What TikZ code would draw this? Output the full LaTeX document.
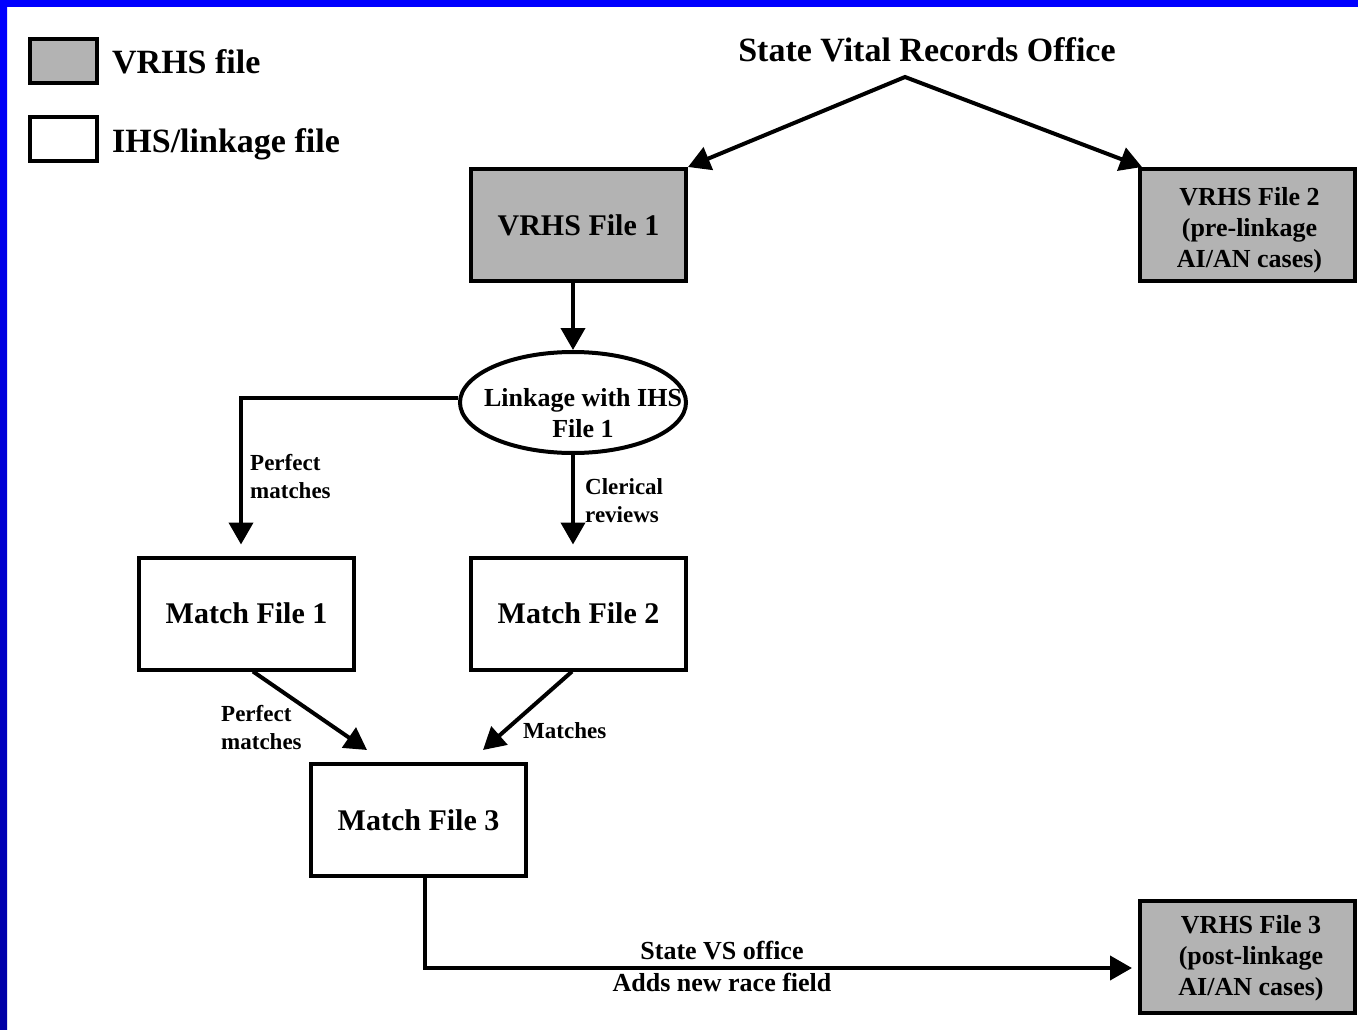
\documentclass[tikz,border=0pt]{standalone}
\usepackage{fontspec}
\setmainfont{Liberation Serif}
\usetikzlibrary{arrows.meta,shapes.geometric,calc}
\definecolor{filegray}{RGB}{179,179,179}
\definecolor{frametop}{RGB}{0,0,255}
\definecolor{framebottom}{RGB}{0,0,165}

\begin{document}
\begin{tikzpicture}[x=1pt,y=-1pt,
  bigtext/.style={font=\bfseries\fontsize{34}{40}\selectfont},
  boxtext/.style={font=\bfseries\fontsize{30}{36}\selectfont},
  stacktext/.style={font=\bfseries\fontsize{26}{31}\selectfont, align=center, inner sep=0pt, anchor=base},
  smalltext/.style={font=\bfseries\fontsize{23}{27.5}\selectfont, inner sep=0pt},
  filebox/.style={draw, line width=4pt, minimum width=215pt, minimum height=112pt,
                  inner sep=0pt, align=center},
  vrhsbox/.style={filebox, fill=filegray},
  ihsbox/.style={filebox, fill=white},
  keybox/.style={draw, line width=4pt, minimum width=67pt, minimum height=44pt, inner sep=0pt},
  flow/.style={line width=4pt},
  arr/.style={flow, -{Triangle[length=22pt,width=24pt]}},
]
\useasboundingbox (0,0) rectangle (1358,1030);

% frame along the top and left edges
\fill[frametop] (0,0) rectangle (1358,7);
\shade[top color=frametop, bottom color=framebottom] (0,0) rectangle (7,1030);

% legend
\node[keybox, fill=filegray] (keyvrhs) at (63.5,61) {};
\node[keybox, fill=white] (keyihs) at (63.5,139) {};
\node[bigtext, anchor=base west, inner sep=0pt] (keyvrhstext) at (112,74) {VRHS file};
\node[bigtext, anchor=base west, inner sep=0pt] (keyihstext) at (112,153) {IHS/linkage file};

% source office
\node[bigtext, anchor=base, inner sep=0pt] (office) at (927,62) {State Vital Records Office};
\coordinate (apex) at (905,77);

% files (the base anchor of a stacked label sits on its last line)
\node[vrhsbox, boxtext] (vrhs1) at (578.5,225) {VRHS File 1};
\node[vrhsbox] (vrhs2) at (1247.5,225) {};
\node[stacktext] (vrhs2text) at (1249.5,267) {VRHS File 2\\(pre-linkage\\AI/AN cases)};
\node[ellipse, draw, line width=4pt, fill=white, minimum width=226pt, minimum height=101pt,
      inner sep=0pt] (link) at (573,402.5) {};
\node[stacktext] (linktext) at (583,437) {Linkage with IHS\\File 1};
\node[ihsbox, boxtext] (match1) at (246.5,613.5) {Match File 1};
\node[ihsbox, boxtext] (match2) at (578.5,613.5) {Match File 2};
\node[ihsbox, boxtext] (match3) at (418.5,820) {Match File 3};
\node[vrhsbox] (vrhs3) at (1247.5,957) {};
\node[stacktext] (vrhs3text) at (1251,995) {VRHS File 3\\(post-linkage\\AI/AN cases)};

% connectors
\draw[flow, {Triangle[length=22pt,width=24pt]}-{Triangle[length=22pt,width=24pt]}]
  (vrhs1.north east) -- (apex) -- ([xshift=4pt]vrhs2.north west);
\draw[arr] (vrhs1.south -| link.north) -- (link.north);
\draw[arr, shorten >=11pt] ([yshift=5pt]link.west) -| ([xshift=-5.5pt]match1.north);
\draw[arr, shorten >=11pt] (link.south) -- (link.south |- match2.north);
\draw[arr] ([xshift=6.5pt]match1.south) -- ([xshift=-51.5pt,yshift=12pt]match3.north);
\draw[arr] ([xshift=-6.5pt]match2.south) -- ([xshift=64.5pt,yshift=12pt]match3.north);
\draw[arr] ([xshift=6.5pt]match3.south) |- ([xshift=-6pt,yshift=-11pt]vrhs3.west);

% connector labels
\node[smalltext, align=left, anchor=base west] (lblperfect1) at (250,498) {Perfect\\matches};
\node[smalltext, align=left, anchor=base west] (lblclerical) at (585,522) {Clerical\\reviews};
\node[smalltext, align=left, anchor=base west] (lblperfect2) at (221,749) {Perfect\\matches};
\node[smalltext, anchor=base west] (lblmatches) at (523,738) {Matches};
\node[stacktext, font=\bfseries\fontsize{26}{32}\selectfont] (lblvs) at (722,991)
     {State VS office\\Adds new race field};
\end{tikzpicture}
\end{document}
